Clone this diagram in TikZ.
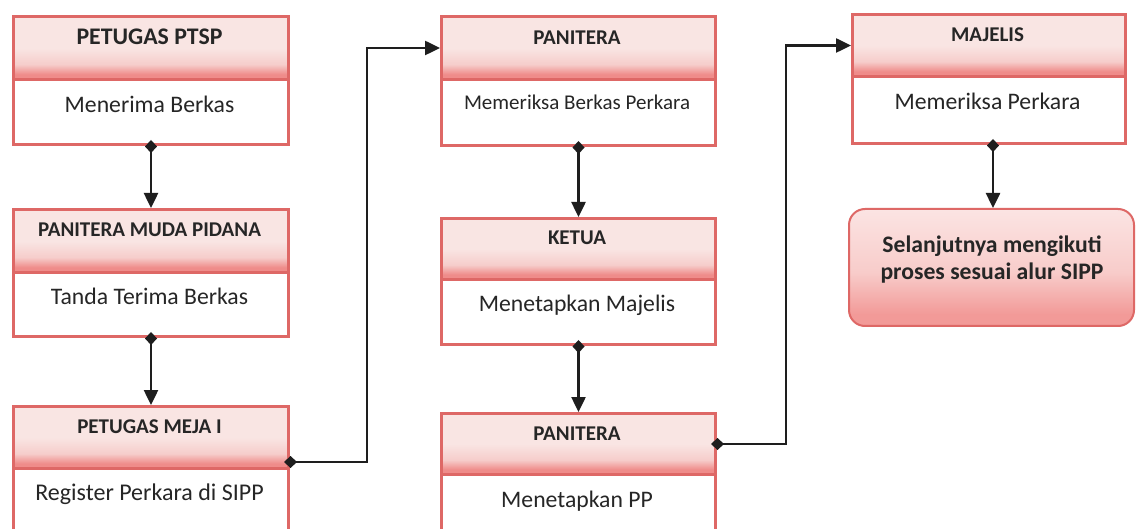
\documentclass[tikz,border=0pt]{standalone}
\usepackage{fontspec}
\setmainfont{Carlito}
\usetikzlibrary{arrows.meta}

\definecolor{edge}{RGB}{222,104,102}
\definecolor{hdrtop}{RGB}{249,229,227}
\definecolor{hdrmid}{RGB}{246,205,203}
\definecolor{hdrbot}{RGB}{239,140,138}
\definecolor{endtop}{RGB}{251,228,227}
\definecolor{endmid}{RGB}{248,204,202}
\definecolor{endbot}{RGB}{242,154,152}
\definecolor{ink}{RGB}{38,38,38}
\definecolor{wire}{RGB}{30,30,30}

% header band: pale pink that deepens near the lower edge
\pgfdeclareverticalshading{hdrshade}{100bp}{color(0bp)=(hdrbot); color(25bp)=(hdrbot); color(29bp)=(hdrbot); color(37bp)=(hdrmid); color(50bp)=(hdrtop); color(75bp)=(hdrtop); color(100bp)=(hdrtop)}
\pgfdeclareverticalshading{endshade}{100bp}{color(0bp)=(endbot); color(25bp)=(endbot); color(30bp)=(endbot); color(48bp)=(endmid); color(75bp)=(endtop); color(100bp)=(endtop)}

\tikzset{
  hdr/.style={draw=edge, line width=3pt, shading=hdrshade, anchor=north west,
    inner sep=0pt, minimum width=275pt},
  body/.style={draw=edge, line width=3pt, fill=white, anchor=north west,
    inner sep=0pt, minimum width=275pt},
  htext/.style={anchor=base, inner sep=0pt, text=ink,
    font=\bfseries\fontsize{21}{24}\selectfont},
  btext/.style={anchor=base, inner sep=0pt, text=ink,
    font=\fontsize{23.7}{27}\selectfont},
  endbox/.style={draw=edge, line width=2pt, shading=endshade, rounded corners=16pt,
    anchor=north west, inner sep=0pt},
  flow/.style={draw=wire, line width=2.5pt, shorten <=-6pt,
    {Diamond[length=13pt,width=12pt]}-{Triangle[length=15pt,width=14pt]}},
}

\begin{document}
\begin{tikzpicture}[x=1pt, y=-1pt]
\clip (0,0) rectangle (1138,529);
\fill[white] (0,0) rectangle (1138,529);

% ---- first column
\node[hdr, minimum height=63pt] (a1) at (12,15) {};
\node[body, minimum height=65pt] (a1b) at (12,78) {};
\node[htext, font=\bfseries\fontsize{23.8}{27}\selectfont] (a1t) at (149.5,45) {PETUGAS PTSP};
\node[btext] (a1bt) at (149.5,113) {Menerima Berkas};

\node[hdr, minimum height=63pt] (a2) at (12,208) {};
\node[body, minimum height=64pt] (a2b) at (12,271) {};
\node[htext] (a2t) at (149.5,237) {PANITERA MUDA PIDANA};
\node[btext] (a2bt) at (149.5,305) {Tanda Terima Berkas};

\node[hdr, minimum height=62pt] (a3) at (12,405) {};
\node[body, minimum height=72pt] (a3b) at (12,467) {};
\node[htext] (a3t) at (149.5,433) {PETUGAS MEJA I};
\node[btext, font=\fontsize{24}{27}\selectfont] (a3bt) at (149.5,500) {Register Perkara di SIPP};

% ---- second column
\node[hdr, minimum height=63pt, minimum width=274pt] (b1) at (440,15) {};
\node[body, minimum height=66pt, minimum width=274pt] (b1b) at (440,78) {};
\node[htext] (b1t) at (577,45) {PANITERA};
\node[btext, font=\fontsize{21}{24}\selectfont] (b1bt) at (577,110) {Memeriksa Berkas Perkara};

\node[hdr, minimum height=61pt, minimum width=274pt] (b2) at (440,217) {};
\node[body, minimum height=65pt, minimum width=274pt] (b2b) at (440,278) {};
\node[htext] (b2t) at (577,245) {KETUA};
\node[btext] (b2bt) at (577,312) {Menetapkan Majelis};

\node[hdr, minimum height=61pt, minimum width=274pt] (b3) at (440,412) {};
\node[body, minimum height=72pt, minimum width=274pt] (b3b) at (440,473) {};
\node[htext] (b3t) at (577,440) {PANITERA};
\node[btext] (b3bt) at (577,507) {Menetapkan PP};

% ---- third column
\node[hdr, minimum height=62pt, minimum width=273pt] (c1) at (851,13) {};
\node[body, minimum height=67pt, minimum width=273pt] (c1b) at (851,75) {};
\node[htext] (c1t) at (987.5,42) {MAJELIS};
\node[btext] (c1bt) at (987.5,110) {Memeriksa Perkara};

\node[endbox, minimum width=285pt, minimum height=117pt] (fin) at (848,208) {};
\node[anchor=base, inner sep=0pt, text=ink, align=center,
  font=\bfseries\fontsize{23.7}{28}\selectfont] (fint) at (992,280)
  {Selanjutnya mengikuti\\proses sesuai alur SIPP};

% ---- connectors
\draw[flow] (a1b.south) -- (a2.north);
\draw[flow] (a2b.south) -- (a3.north);
\draw[flow] ([yshift=8pt]a3.south east) -- ++(77,0) |- (b1.west);
\draw[flow] (b1b.south) -- (b2.north);
\draw[flow] (b2b.south) -- (b3.north);
\draw[flow] (b3.east) -- ++(69,0) |- (c1.west);
\draw[flow] ([xshift=4pt]c1b.south) -- ([xshift=4pt]c1b.south |- fin.north);
\end{tikzpicture}
\end{document}
